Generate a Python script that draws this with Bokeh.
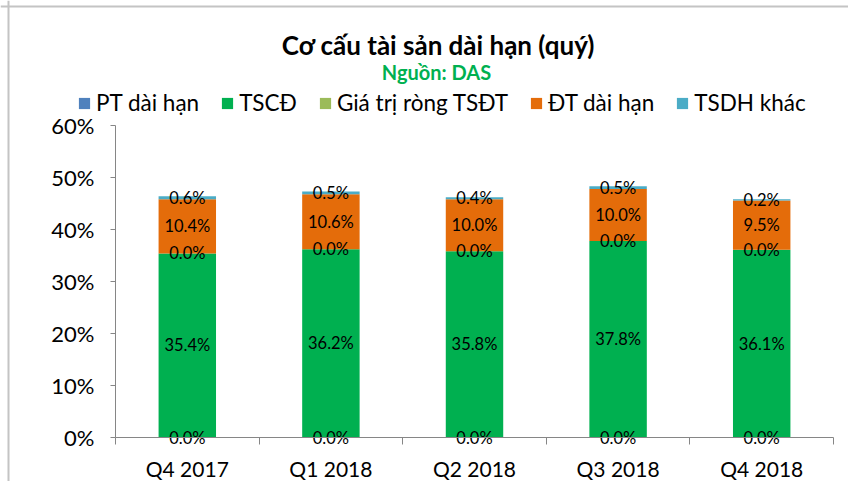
from bokeh.plotting import figure
from bokeh.models import (ColumnDataSource, FixedTicker, NumeralTickFormatter, Legend,
                          LegendItem, Label, Range1d, LinearAxis, Span)
from bokeh.core.properties import value
from bokeh.embed import file_html
from bokeh.resources import INLINE

categories = ["Q4 2017", "Q1 2018", "Q2 2018", "Q3 2018", "Q4 2018"]
series_names = ["PT dài hạn", "TSCĐ", "Giá trị ròng TSĐT", "ĐT dài hạn", "TSDH khác"]
pt_dai_han = [0.0, 0.0, 0.0, 0.0, 0.0]
tscd = [35.4, 36.2, 35.8, 37.8, 36.1]
gia_tri_rong = [0.0, 0.0, 0.0, 0.0, 0.0]
dt_dai_han = [10.4, 10.6, 10.0, 10.0, 9.5]
tsdh_khac = [0.6, 0.5, 0.4, 0.5, 0.2]
colors = ["#4F81BD", "#00B050", "#9BBB59", "#E46C0A", "#4BACC6"]
yticks = [0, 0.1, 0.2, 0.3, 0.4, 0.5, 0.6]
y_max = 0.6

FONT = "Lato"
W, H = 848, 481
# plot area in pixels (left, right, top, bottom)
PL, PR, PT, PB = 115, 833, 125, 437

series = [pt_dai_han, tscd, gia_tri_rong, dt_dai_han, tsdh_khac]
keys = ["s0", "s1", "s2", "s3", "s4"]
n = len(categories)
xs = [i + 0.5 for i in range(n)]
data = {"x": xs}
for k, s in zip(keys, series):
    data[k] = [v / 100 for v in s]
src = ColumnDataSource(data)

xs_px = (PR - PL) / n
ys_px = (PB - PT) / y_max
x_range = Range1d(-PL / xs_px, n + (W - PR) / xs_px)
y_range = Range1d(-(H - PB) / ys_px, y_max + PT / ys_px)

p = figure(width=W, height=H, output_backend="svg", toolbar_location=None,
           x_range=x_range, y_range=y_range, x_axis_location=None, y_axis_location=None,
           min_border=0)
p.outline_line_color = None
p.xgrid.visible = False
p.ygrid.visible = False

# chart border (left and top edges)
p.add_layout(Span(location=8, dimension="height", location_units="screen",
                  line_color="#c4c4c4", line_width=2))
p.add_layout(Span(location=H - 6, dimension="width", location_units="screen",
                  line_color="#c4c4c4", line_width=2))

renderers = p.vbar_stack(keys, x="x", width=0.4, color=colors, line_color=None, source=src)

# data labels
bottom = [0.0] * n
for s in series:
    vals = [v / 100 for v in s]
    ys = [b + v / 2 for b, v in zip(bottom, vals)]
    txt = [f"{v:.1f}%" for v in s]
    p.text(x=xs, y=ys, text=txt, text_align="center", text_baseline="middle",
           text_font=value(FONT), text_font_size="16.5px", text_color="#000000")
    bottom = [b + v for b, v in zip(bottom, vals)]

# axes
xaxis = LinearAxis(fixed_location=0, bounds=(0, n))
xaxis.ticker = FixedTicker(ticks=xs, minor_ticks=list(range(n + 1)))
xaxis.major_label_overrides = {x: c for x, c in zip(xs, categories)}
xaxis.major_tick_line_color = None
xaxis.minor_tick_out = 7
xaxis.minor_tick_in = 0
xaxis.minor_tick_line_color = "#868686"
xaxis.axis_line_color = "#868686"
xaxis.major_label_text_font = FONT
xaxis.major_label_text_font_size = "21px"
xaxis.major_label_text_color = "#000000"
xaxis.major_label_standoff = 11
p.add_layout(xaxis, "below")

yaxis = LinearAxis(fixed_location=0, bounds=(0, y_max))
yaxis.ticker = FixedTicker(ticks=yticks, minor_ticks=[])
yaxis.formatter = NumeralTickFormatter(format="0%")
yaxis.major_tick_out = 5
yaxis.major_tick_in = 0
yaxis.major_tick_line_color = "#868686"
yaxis.axis_line_color = "#868686"
yaxis.major_label_text_font = FONT
yaxis.major_label_text_font_size = "22px"
yaxis.major_label_text_color = "#000000"
yaxis.major_label_standoff = 16
p.add_layout(yaxis, "left")

legend = Legend(items=[LegendItem(label=nm, renderers=[r]) for nm, r in zip(series_names, renderers)],
                orientation="horizontal", location=(77, H - 103 - 13),
                label_text_font=FONT, label_text_font_size="22.5px", label_text_color="#000000",
                glyph_width=14, glyph_height=14, spacing=21, label_standoff=5,
                padding=0, margin=0, border_line_color=None, background_fill_alpha=0)
p.add_layout(legend, "center")

p.add_layout(Label(x=438, y=H - 44, x_units="screen", y_units="screen",
                   text="Cơ cấu tài sản dài hạn (quý)", text_align="center", text_baseline="middle",
                   text_font=FONT, text_font_size="26px", text_font_style="bold",
                   text_color="#000000"))
p.add_layout(Label(x=436, y=H - 71, x_units="screen", y_units="screen",
                   text="Nguồn: DAS", text_align="center", text_baseline="middle",
                   text_font=FONT, text_font_size="20px", text_font_style="bold",
                   text_color="#00B050"))

open("out.html", "w").write(file_html(p, INLINE))
